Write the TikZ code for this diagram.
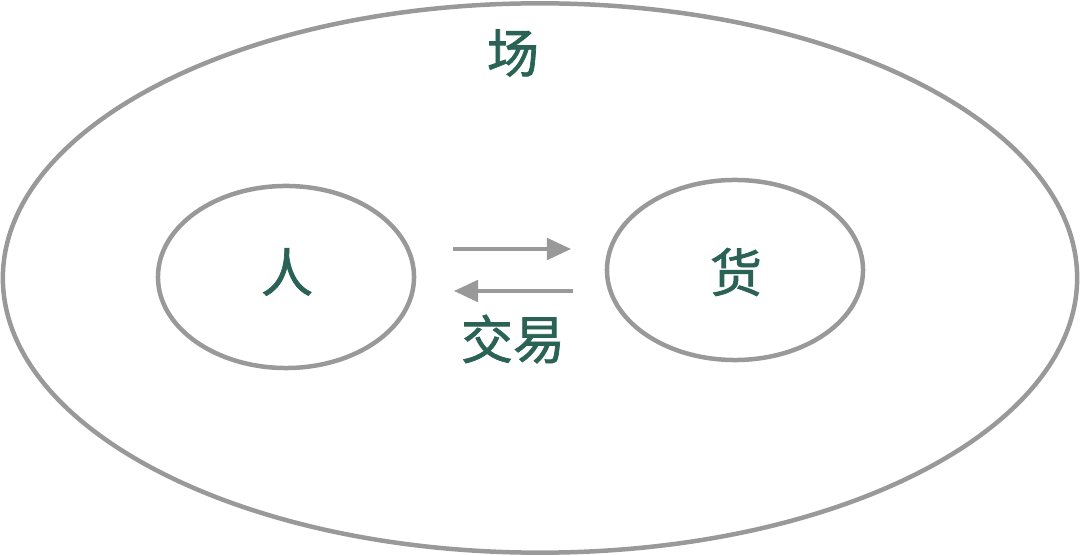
\documentclass[tikz,border=0pt]{standalone}
\usepackage{fontspec}
\usepackage{xcolor}
\usepackage{tikz}
\usetikzlibrary{arrows.meta,positioning,shapes.geometric}
\newfontfamily\cjk[FakeBold=1.4]{Noto Sans CJK SC}
\definecolor{ringgray}{HTML}{999999}
\definecolor{labelgreen}{HTML}{2A6355}

\begin{document}
\begin{tikzpicture}[
      x=0.025cm, y=-0.025cm,
      every node/.style={font=\cjk\fontsize{37}{42}\selectfont, text=labelgreen},
      ring/.style={
        draw=ringgray, ellipse, line width=3.2pt, inner sep=0pt
      },
      arrow/.style={-{Triangle[length=6mm, width=5.4mm]}, draw=ringgray, line width=2.2pt}
    ]
    \useasboundingbox (0,0) rectangle (1080,556);

    \node[ring, minimum width=26.85cm, minimum height=13.73cm] (field) at (540,278) {};
    \node[ring, minimum width=6.4cm, minimum height=4.55cm] (person) at (286,277) {};
    \node[ring, minimum width=6.4cm, minimum height=4.5cm] (goods) at (735,270) {};

    \node at (513,53) (fieldlabel) {场};
    \node at (287,272) (personlabel) {人};
    \node at (736,272) (goodslabel) {货};
    \node at (513,339) (tradelabel) {交易};

    \coordinate (buyA) at (453,249);
    \coordinate (buyB) at (571,249);
    \coordinate (sellA) at (573,291);
    \coordinate (sellB) at (454,291);

    \draw[arrow] (buyA)  -- (buyB);
    \draw[arrow] (sellA) -- (sellB);
  \end{tikzpicture}
\end{document}
